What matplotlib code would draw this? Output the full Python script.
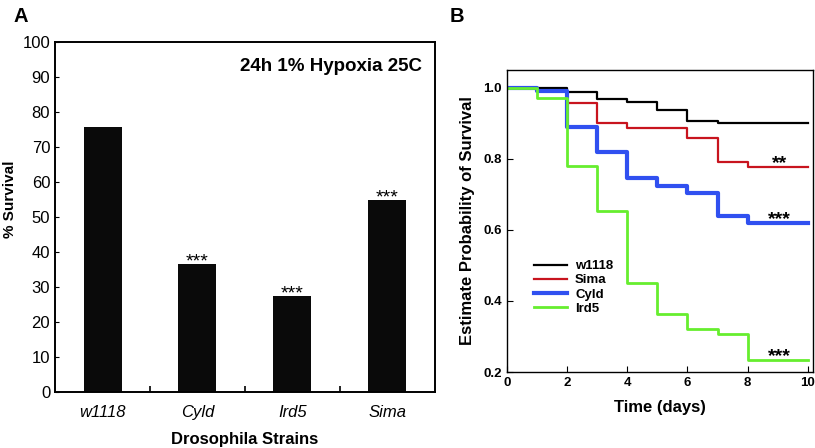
import matplotlib.pyplot as plt
import numpy as np

plt.rcParams['font.family'] = ['Liberation Sans', 'DejaVu Sans']

# panel A
strains = ['w1118', 'Cyld', 'Ird5', 'Sima']
survival = [75.8, 36.6, 27.4, 54.9]
stars_a = ['', '***', '***', '***']

# panel B (Kaplan-Meier steps, value after each day)
days = [0, 1, 2, 3, 4, 5, 6, 7, 8, 10]
km = {
    'w1118': [1.0, 1.0, 0.988, 0.968, 0.959, 0.938, 0.907, 0.900, 0.900, 0.900],
    'Sima': [1.0, 0.99, 0.957, 0.902, 0.888, 0.888, 0.860, 0.790, 0.778, 0.778],
    'Cyld': [1.0, 0.99, 0.891, 0.818, 0.746, 0.724, 0.703, 0.640, 0.619, 0.619],
    'Ird5': [1.0, 0.972, 0.781, 0.652, 0.450, 0.363, 0.320, 0.306, 0.234, 0.234],
}
colors = {'w1118': 'black', 'Sima': '#c8141e', 'Cyld': '#3050f0', 'Ird5': '#66ee2e'}
widths = {'w1118': 1.6, 'Sima': 1.6, 'Cyld': 3.0, 'Ird5': 2.0}
stars_b = {'Sima': '**', 'Cyld': '***', 'Ird5': '***'}

fig = plt.figure(figsize=(8.15, 4.48), dpi=100)

# ---- A ----
ax = fig.add_axes([0.0675, 0.125, 0.4662, 0.781])
x = np.arange(len(strains))
ax.bar(x, survival, width=0.4, color='#0a0a0a')
for xi, v, s in zip(x, survival, stars_a):
    if s:
        ax.annotate(s, (xi, v), xytext=(0, -2), textcoords='offset points',
                    ha='center', va='baseline', fontsize=14)
ax.set_xlim(-0.5, 3.5)
ax.set_ylim(0, 100)
ax.set_yticks(np.arange(0, 101, 10))
ax.set_xticks(x)
ax.set_xticklabels(strains, style='italic', fontsize=12)
ax.set_xticks([0.5, 1.5, 2.5], minor=True)
ax.tick_params(axis='x', which='major', length=0, pad=9)
ax.tick_params(axis='x', which='minor', direction='in', length=4, width=1.2)
ax.tick_params(axis='y', direction='in', length=3, labelsize=12)
ax.set_ylabel('% Survival', fontweight='bold', fontsize=11)
ax.yaxis.set_label_coords(-0.1, 0.55)
ax.set_xlabel('Drosophila Strains', fontweight='bold', fontsize=12, labelpad=9)
ax.text(0.965, 0.955, '24h 1% Hypoxia 25C', transform=ax.transAxes, ha='right', va='top',
        fontweight='bold', fontsize=13.5)
for sp in ax.spines.values():
    sp.set_linewidth(1.4)
fig.text(0.016, 0.985, 'A', fontweight='bold', fontsize=14.5, va='top')

# ---- B ----
bx = fig.add_axes([0.622, 0.1696, 0.3755, 0.6741])
for name in ['w1118', 'Sima', 'Cyld', 'Ird5']:
    bx.step(days, km[name], where='post', color=colors[name], lw=widths[name], label=name)
for name, s in stars_b.items():
    bx.annotate(s, (9.05, km[name][-1]), xytext=(0, -1), textcoords='offset points',
                ha='center', va='baseline', fontsize=14, fontweight='bold')
bx.set_xlim(0, 10.17)
bx.set_ylim(0.2, 1.05)
bx.set_xticks([0, 2, 4, 6, 8, 10])
bx.set_yticks([0.2, 0.4, 0.6, 0.8, 1.0])
bx.set_yticklabels(['0.2', '0.4', '0.6', '0.8', '1.0'])
bx.tick_params(direction='in', length=4, labelsize=9.5)
for lab in bx.get_xticklabels() + bx.get_yticklabels():
    lab.set_fontweight('bold')
bx.set_xlabel('Time (days)', fontweight='bold', fontsize=12, labelpad=8)
bx.set_ylabel('Estimate Probability of Survival', fontweight='bold', fontsize=12, labelpad=6)
leg = bx.legend(loc='lower left', bbox_to_anchor=(0.05, 0.15), frameon=False,
                prop={'weight': 'bold', 'size': 9.5}, handlelength=2.5,
                labelspacing=0.15, handletextpad=0.6)
for sp in bx.spines.values():
    sp.set_linewidth(1.0)
fig.text(0.552, 0.985, 'B', fontweight='bold', fontsize=14.5, va='top')

fig.savefig('out.png', dpi=100)
